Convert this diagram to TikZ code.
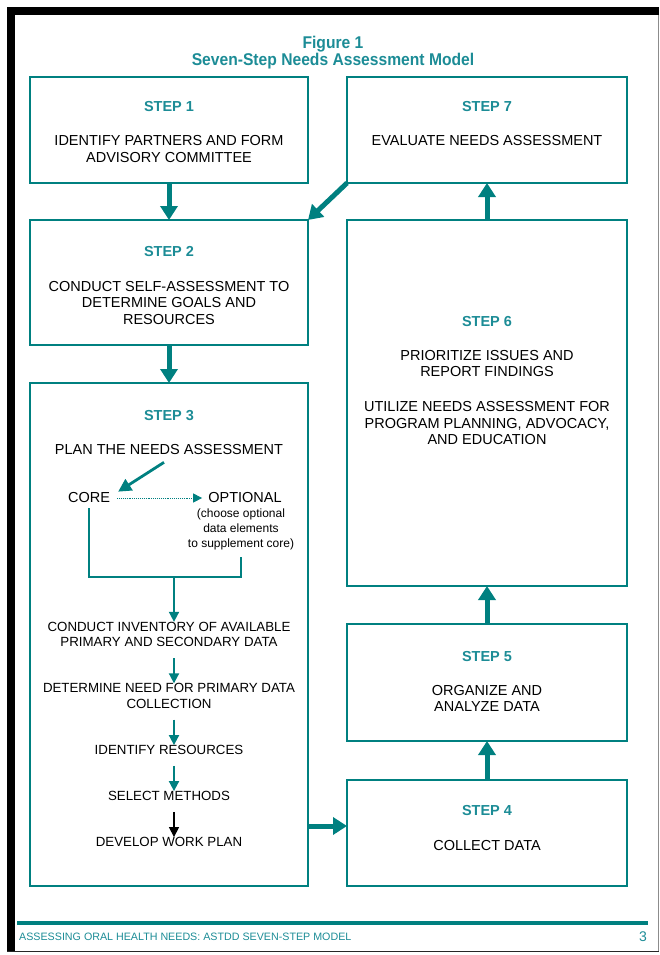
\documentclass[tikz,border=0pt]{standalone}
\usepackage{fontspec}
\setmainfont{Liberation Sans}
\usetikzlibrary{positioning,arrows.meta}
\definecolor{boxteal}{RGB}{0,128,128}
\definecolor{labelteal}{RGB}{28,140,150}

\begin{document}
\begin{tikzpicture}[x=1pt,y=-1pt,
  step box/.style={draw=boxteal,line width=1.3pt,outer sep=0pt,inner sep=0pt,minimum width=278pt},
  step label/.style={text=labelteal,inner sep=0pt,font=\fontsize{14.5}{16}\selectfont\bfseries},
  step text/.style={align=center,inner sep=0pt,font=\fontsize{14.5}{16.5}\selectfont},
  sub text/.style={align=center,inner sep=0pt,font=\fontsize{13.3}{15.5}\selectfont},
  note text/.style={align=center,inner sep=0pt,font=\fontsize{12}{15}\selectfont},
  title text/.style={text=labelteal,inner sep=0pt,font=\fontsize{17}{19}\selectfont\bfseries},
  big arrow/.style={draw=boxteal,line width=5pt,-{Triangle[width=17pt,length=14pt]}},
  sub arrow/.style={draw=boxteal,line width=1.8pt,-{Triangle[width=10pt,length=10pt]},shorten <=11pt}]
  \useasboundingbox (0,0) rectangle (660,955);

  % page frame
  \fill[black] (7,7) rectangle (15,952);
  \fill[black] (7,7) rectangle (659,15);
  \draw[black!45,line width=1pt] (658.5,15) -- (658.5,952);
  \draw[black!85,line width=1.2pt] (7,951.5) -- (659,951.5);

  \node[title text] (fig) at (333,44) {\scalebox{0.92}[1]{Figure 1}};
  \node[title text] (name) at (333,61) {\scalebox{0.92}[1]{Seven-Step Needs Assessment Model}};

  % the seven boxes
  \node[step box,minimum height=106pt] (s1) at (169,130) {};
  \node[step box,minimum height=125pt] (s2) [below=37pt of s1] {};
  \node[step box,minimum height=503pt] (s3) [below=38pt of s2] {};
  \node[step box,minimum width=280pt,minimum height=106pt] (s7) [right=39pt of s1] {};
  \node[step box,minimum width=280pt,minimum height=366pt] (s6) [below=37pt of s7] {};
  \node[step box,minimum width=280pt,minimum height=117pt] (s5) [below=38pt of s6] {};
  \node[step box,minimum width=280pt,minimum height=106pt] (s4) [below=39pt of s5] {};

  \node[step label] (l1) at ([yshift=-30pt]s1.north) {STEP 1};
  \node[step text] (t1) at ([yshift=-72pt]s1.north) {IDENTIFY PARTNERS AND FORM\\ADVISORY COMMITTEE};
  \node[step label] (l2) at ([yshift=-32pt]s2.north) {STEP 2};
  \node[step text] (t2) at ([yshift=-83pt]s2.north) {CONDUCT SELF-ASSESSMENT TO\\DETERMINE GOALS AND\\RESOURCES};
  \node[step label] (l3) at ([yshift=-33pt]s3.north) {STEP 3};
  \node[step label] (l4) at ([yshift=-30pt]s4.north) {STEP 4};
  \node[step text] (t4) at ([yshift=-65pt]s4.north) {COLLECT DATA};
  \node[step label] (l5) at ([yshift=-33pt]s5.north) {STEP 5};
  \node[step text] (t5) at ([yshift=-74.5pt]s5.north) {ORGANIZE AND\\ANALYZE DATA};
  \node[step label] (l6) at ([yshift=-102pt]s6.north) {STEP 6};
  \node[step text] (t6) at ([yshift=-143.5pt]s6.north) {PRIORITIZE ISSUES AND\\REPORT FINDINGS};
  \node[step text] (u6) at ([yshift=-203.5pt]s6.north) {UTILIZE NEEDS ASSESSMENT FOR\\PROGRAM PLANNING, ADVOCACY,\\AND EDUCATION};
  \node[step label] (l7) at ([yshift=-30pt]s7.north) {STEP 7};
  \node[step text] (t7) at ([yshift=-64pt]s7.north) {EVALUATE NEEDS ASSESSMENT};

  % inside step 3
  \node[step text] (plan) at ([yshift=-67pt]s3.north) {PLAN THE NEEDS ASSESSMENT};
  \node[step text] (core) at ([xshift=-80pt,yshift=-115pt]s3.north) {CORE};
  \node[step text] (opt) at ([xshift=76pt,yshift=-115pt]s3.north) {OPTIONAL};
  \node[note text] (note) at ([xshift=72pt,yshift=-146pt]s3.north) {(choose optional\\data elements\\to supplement core)};
  \coordinate (join) at ([xshift=5pt,yshift=-194pt]s3.north);
  \node[sub text] (inv) at ([yshift=-251.5pt]s3.north) {CONDUCT INVENTORY OF AVAILABLE\\PRIMARY AND SECONDARY DATA};
  \node[sub text] (need) at ([yshift=-313pt]s3.north) {DETERMINE NEED FOR PRIMARY DATA\\COLLECTION};
  \node[sub text] (res) at ([yshift=-367pt]s3.north) {IDENTIFY RESOURCES};
  \node[sub text] (meth) at ([yshift=-413pt]s3.north) {SELECT METHODS};
  \node[sub text] (work) at ([yshift=-459pt]s3.north) {DEVELOP WORK PLAN};

  \draw[boxteal,line width=2.8pt,-{Triangle[width=13pt,length=13pt]}] ([xshift=-5pt,yshift=-7pt]plan.south) -- ([xshift=8pt,yshift=1pt]core.north east);
  \draw[boxteal,line width=0.9pt,densely dotted,-{Triangle[width=9pt,length=9pt]},shorten <=7pt,shorten >=6pt] (core) -- (opt);
  \draw[boxteal,line width=1.3pt] ([yshift=-5pt]core.south) |- (join) -| ([yshift=-7.5pt]note.south);
  \draw[sub arrow,shorten <=0pt] (join) -- (inv.north -| join);
  \draw[sub arrow] (inv.south -| join) -- (need.north -| join);
  \draw[sub arrow] (need.south -| join) -- (res.north -| join);
  \draw[sub arrow] (res.south -| join) -- (meth.north -| join);
  \draw[sub arrow,draw=black,line width=1.3pt] (meth.south -| join) -- (work.north -| join);

  % flow between the steps
  \coordinate (a4) at ([yshift=7pt]s4.west);
  \draw[big arrow] (s1) -- (s2);
  \draw[big arrow] (s2) -- (s3);
  \draw[big arrow] (s3.east |- a4) -- (a4);
  \draw[big arrow] (s4) -- (s5);
  \draw[big arrow] (s5) -- (s6);
  \draw[big arrow] (s6) -- (s7);
  \draw[big arrow] (s7.south west) -- (s2.north east);

  % footer
  \draw[boxteal,line width=3.5pt] (17,923) -- (648,923);
  \node[anchor=west,inner sep=0pt,text=labelteal,font=\fontsize{10.7}{12}\selectfont] (foot) at (19,937) {ASSESSING ORAL HEALTH NEEDS: ASTDD SEVEN-STEP MODEL};
  \node[anchor=east,inner sep=0pt,text=labelteal,font=\fontsize{14}{16}\selectfont] (page) at (647,937) {3};
\end{tikzpicture}
\end{document}
